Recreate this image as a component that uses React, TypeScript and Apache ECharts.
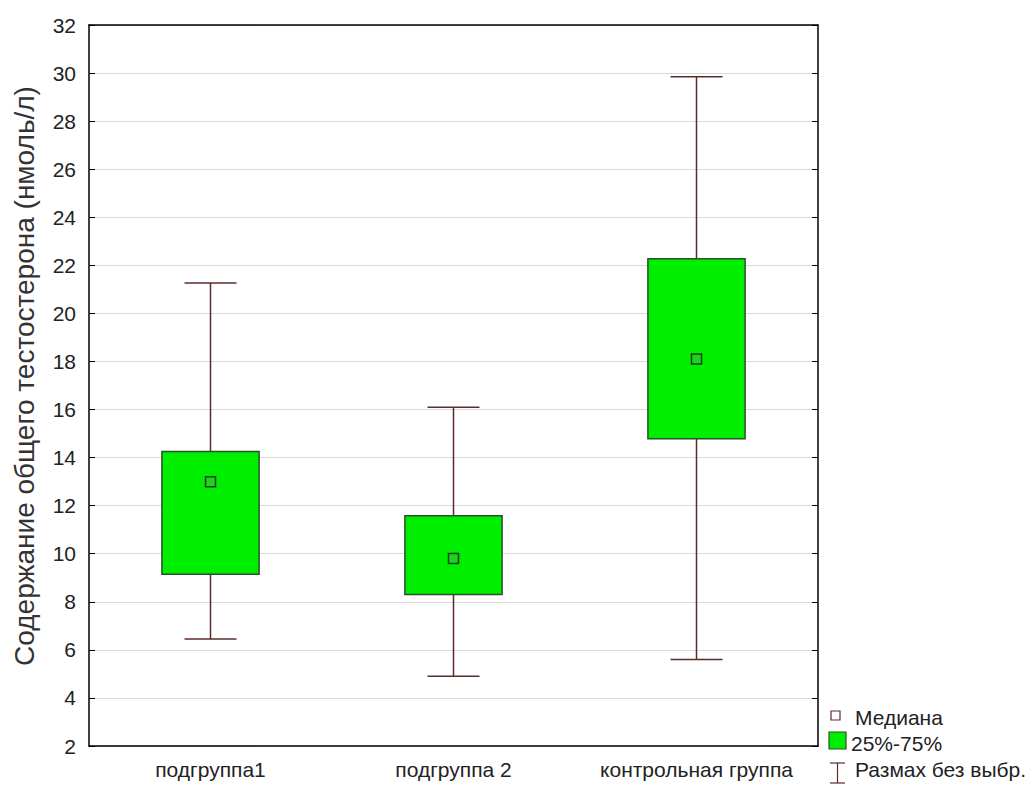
import React, { useEffect, useRef } from "react";
import * as echarts from "echarts";

const categories = ["подгруппа1", "подгруппа 2", "контрольная группа"];
const whiskerLow = [6.45, 4.9, 5.6];
const q1 = [9.15, 8.3, 14.78];
const median = [13.0, 9.8, 18.1];
const q3 = [14.25, 11.58, 22.27];
const whiskerHigh = [21.27, 16.1, 29.85];
const yTicks = { min: 2, max: 32, interval: 2 };
const yTitle = "Содержание общего тестостерона (нмоль/л)";
const legendLabels = ["Медиана", "25%-75%", "Размах без выбр."];

const FONT = "Liberation Sans, Arial, sans-serif";
const BOX_FILL = "#00ee00";
const BOX_STROKE = "#2b4f2b";
const WHISKER = "#5e2a2a";

export default function App() {
  const ref = useRef<HTMLDivElement>(null);
  useEffect(() => {
    if (!ref.current) return;
    const chart = echarts.init(ref.current, undefined, { renderer: "svg" });
    const data = categories.map((_, i) => [i, whiskerLow[i], q1[i], median[i], q3[i], whiskerHigh[i]]);
    const grid = { left: 89, top: 25, width: 729, height: 721, containLabel: false };
    chart.setOption({
      animation: false,
      backgroundColor: "#ffffff",
      grid,
      xAxis: [
        {
          type: "category",
          data: categories,
          position: "bottom",
          axisLine: { lineStyle: { color: "#000", width: 1.5 } },
          axisTick: { inside: true, alignWithLabel: true, length: 6, lineStyle: { color: "#000" } },
          axisLabel: { color: "#222", fontFamily: FONT, fontSize: 21, margin: 13, interval: 0, hideOverlap: false },
          splitLine: { show: false },
        },
        {
          type: "category",
          data: categories,
          position: "top",
          axisLine: { lineStyle: { color: "#000", width: 1.5 } },
          axisTick: { inside: true, alignWithLabel: true, length: 6, lineStyle: { color: "#000" } },
          axisLabel: { show: false },
        },
      ],
      yAxis: [
        {
          type: "value",
          min: yTicks.min,
          max: yTicks.max,
          interval: yTicks.interval,
          position: "left",
          axisLine: { show: true, lineStyle: { color: "#000", width: 1.5 } },
          axisTick: { show: true, inside: true, length: 6, lineStyle: { color: "#000" } },
          axisLabel: { color: "#222", fontFamily: FONT, fontSize: 21, margin: 13 },
          splitLine: { show: true, lineStyle: { color: "#d9d9d9", width: 1 } },
        },
        {
          type: "value",
          min: yTicks.min,
          max: yTicks.max,
          interval: yTicks.interval,
          position: "right",
          axisLine: { show: true, lineStyle: { color: "#000", width: 1.5 } },
          axisTick: { show: true, inside: true, length: 6, lineStyle: { color: "#000" } },
          axisLabel: { show: false },
          splitLine: { show: false },
        },
      ],
      series: [
        {
          type: "custom",
          xAxisIndex: 0,
          yAxisIndex: 0,
          encode: { x: 0, y: [1, 2, 3, 4, 5] },
          data,
          renderItem: (params: any, api: any) => {
            const idx = api.value(0);
            const band = api.size([1, 0])[0];
            const boxW = band * 0.4;
            const capW = band * 0.214;
            const pLow = api.coord([idx, api.value(1)]);
            const pQ1 = api.coord([idx, api.value(2)]);
            const pMed = api.coord([idx, api.value(3)]);
            const pQ3 = api.coord([idx, api.value(4)]);
            const pHigh = api.coord([idx, api.value(5)]);
            const cx = pMed[0];
            const lineStyle = { stroke: WHISKER, lineWidth: 1.5 };
            return {
              type: "group",
              children: [
                { type: "line", shape: { x1: cx, y1: pHigh[1], x2: cx, y2: pQ3[1] }, style: lineStyle },
                { type: "line", shape: { x1: cx - capW / 2, y1: pHigh[1], x2: cx + capW / 2, y2: pHigh[1] }, style: lineStyle },
                { type: "line", shape: { x1: cx, y1: pQ1[1], x2: cx, y2: pLow[1] }, style: lineStyle },
                { type: "line", shape: { x1: cx - capW / 2, y1: pLow[1], x2: cx + capW / 2, y2: pLow[1] }, style: lineStyle },
                {
                  type: "rect",
                  shape: { x: cx - boxW / 2, y: pQ3[1], width: boxW, height: pQ1[1] - pQ3[1] },
                  style: { fill: BOX_FILL, stroke: BOX_STROKE, lineWidth: 1.5 },
                },
                {
                  type: "rect",
                  shape: { x: cx - 5, y: pMed[1] - 5, width: 10, height: 10 },
                  style: { fill: "#1fd21f", stroke: "#1f3f1f", lineWidth: 1.5 },
                },
              ],
            };
          },
        },
      ],
      graphic: [
        {
          type: "text",
          x: 24,
          y: 376,
          rotation: Math.PI / 2,
          style: { text: yTitle, fill: "#333", font: `28px ${FONT}`, align: "center", verticalAlign: "middle" },
        },
        { type: "rect", shape: { x: 831, y: 711, width: 9, height: 9 }, style: { fill: "#fff", stroke: "#5e2a2a", lineWidth: 1.2 } },
        { type: "text", x: 855, y: 717, style: { text: legendLabels[0], fill: "#222", font: `21px ${FONT}`, verticalAlign: "middle" } },
        { type: "rect", shape: { x: 829, y: 732, width: 17, height: 17 }, style: { fill: BOX_FILL, stroke: BOX_STROKE, lineWidth: 1.2 } },
        { type: "text", x: 851, y: 743, style: { text: legendLabels[1], fill: "#222", font: `21px ${FONT}`, verticalAlign: "middle" } },
        { type: "line", shape: { x1: 830, y1: 763, x2: 845, y2: 763 }, style: { stroke: WHISKER, lineWidth: 1.2 } },
        { type: "line", shape: { x1: 837.5, y1: 763, x2: 837.5, y2: 783 }, style: { stroke: WHISKER, lineWidth: 1.2 } },
        { type: "line", shape: { x1: 830, y1: 783, x2: 845, y2: 783 }, style: { stroke: WHISKER, lineWidth: 1.2 } },
        { type: "text", x: 855, y: 769, style: { text: legendLabels[2], fill: "#222", font: `21px ${FONT}`, verticalAlign: "middle" } },
      ],
    });
    return () => chart.dispose();
  }, []);
  return <div ref={ref} style={{ position: "absolute", left: 0, top: 0, width: 1036, height: 785 }} />;
}
